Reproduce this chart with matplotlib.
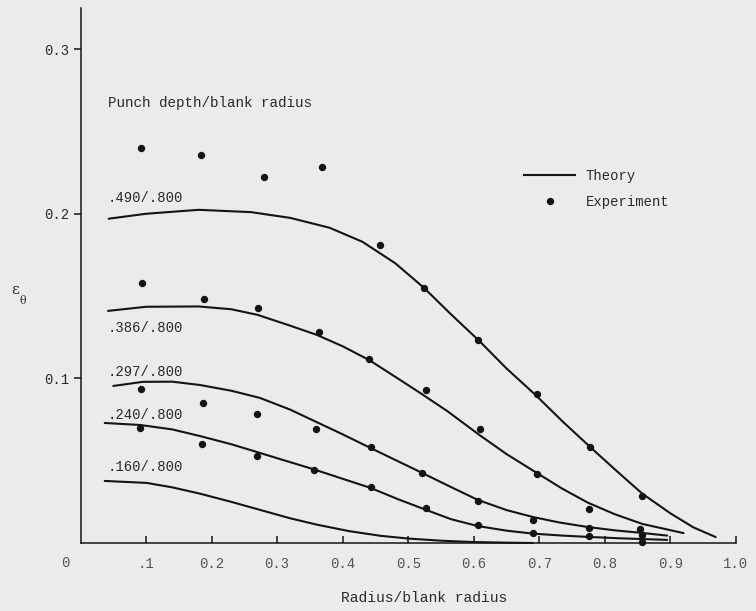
import numpy as np
import matplotlib
matplotlib.use('Agg')
import matplotlib.pyplot as plt
from matplotlib.lines import Line2D

# theory curves: radius/blank radius vs eps_theta
th490_x = [0.043, 0.10, 0.18, 0.26, 0.32, 0.38, 0.43, 0.48, 0.524, 0.565, 0.609, 0.65, 0.694, 0.735, 0.777, 0.82, 0.857, 0.90, 0.935, 0.969]
th490_y = [0.197, 0.200, 0.2024, 0.2010, 0.1975, 0.1915, 0.1830, 0.1700, 0.155, 0.139, 0.1225, 0.106, 0.090, 0.074, 0.0585, 0.043, 0.030, 0.018, 0.0095, 0.0036]
th386_x = [0.042, 0.10, 0.18, 0.23, 0.27, 0.32, 0.36, 0.40, 0.441, 0.48, 0.518, 0.56, 0.609, 0.65, 0.696, 0.735, 0.774, 0.815, 0.857, 0.92]
th386_y = [0.141, 0.1435, 0.1437, 0.1420, 0.1386, 0.1320, 0.1265, 0.1195, 0.111, 0.101, 0.0912, 0.080, 0.0655, 0.054, 0.0426, 0.033, 0.0245, 0.0175, 0.0116, 0.006]
th297_x = [0.05, 0.095, 0.14, 0.182, 0.23, 0.274, 0.32, 0.36, 0.40, 0.441, 0.48, 0.518, 0.56, 0.606, 0.65, 0.69, 0.73, 0.774, 0.815, 0.857, 0.895]
th297_y = [0.0954, 0.0979, 0.0980, 0.0960, 0.0925, 0.0881, 0.0810, 0.0735, 0.0660, 0.0580, 0.0505, 0.0432, 0.035, 0.0262, 0.0200, 0.0158, 0.0125, 0.0097, 0.0077, 0.0061, 0.0045]
th240_x = [0.037, 0.091, 0.14, 0.182, 0.23, 0.269, 0.31, 0.354, 0.40, 0.443, 0.485, 0.528, 0.565, 0.606, 0.65, 0.69, 0.735, 0.774, 0.82, 0.857, 0.895]
th240_y = [0.0729, 0.0717, 0.0690, 0.065, 0.0600, 0.0553, 0.0503, 0.045, 0.039, 0.0334, 0.0265, 0.0200, 0.0145, 0.0103, 0.0075, 0.0057, 0.0045, 0.0037, 0.0029, 0.0024, 0.0019]
th160_x = [0.037, 0.101, 0.14, 0.182, 0.23, 0.274, 0.32, 0.36, 0.41, 0.457, 0.50, 0.55, 0.598, 0.65, 0.69]
th160_y = [0.0377, 0.0365, 0.0338, 0.0300, 0.0250, 0.0201, 0.0150, 0.0112, 0.0072, 0.0044, 0.0027, 0.0014, 0.0006, 0.0002, 0.0]

# experiment points
ex490_x = [0.092, 0.184, 0.280, 0.368, 0.457, 0.524, 0.607, 0.696, 0.777, 0.857]
ex490_y = [0.240, 0.236, 0.2225, 0.2286, 0.181, 0.155, 0.1234, 0.0906, 0.0584, 0.0286]
ex386_x = [0.094, 0.188, 0.271, 0.364, 0.44, 0.527, 0.609, 0.696, 0.775, 0.853]
ex386_y = [0.158, 0.148, 0.143, 0.128, 0.112, 0.093, 0.069, 0.042, 0.0207, 0.0085]
ex297_x = [0.092, 0.187, 0.269, 0.360, 0.443, 0.521, 0.607, 0.690, 0.775, 0.856]
ex297_y = [0.0936, 0.0851, 0.0784, 0.0693, 0.0584, 0.0426, 0.0255, 0.014, 0.0091, 0.0049]
ex240_x = [0.091, 0.185, 0.269, 0.356, 0.443, 0.527, 0.606, 0.690, 0.775, 0.857]
ex240_y = [0.0699, 0.0602, 0.0529, 0.0444, 0.034, 0.0213, 0.0109, 0.0061, 0.0043, 0.0006]

curve_labels = ['.490/.800', '.386/.800', '.297/.800', '.240/.800', '.160/.800']
label_y = [0.2097, 0.1307, 0.104, 0.0778, 0.0462]

xticks = [0.1, 0.2, 0.3, 0.4, 0.5, 0.6, 0.7, 0.8, 0.9, 1.0]
xticklabels = ['.1', '0.2', '0.3', '0.4', '0.5', '0.6', '0.7', '0.8', '0.9', '1.0']
yticks = [0.1, 0.2, 0.3]
yticklabels = ['0.1', '0.2', '0.3']

bg = '#ebebea'
ink = '#141414'
txt = '#2a2a2a'
tickc = '#555555'
plt.rcParams['font.family'] = ['Liberation Mono', 'DejaVu Sans Mono']

fig = plt.figure(figsize=(7.56, 6.11), dpi=100, facecolor=bg)
ax = fig.add_axes([80.5/756, 68/611, (736-80.5)/756, (543-8)/611])
ax.set_facecolor(bg)
ax.set_xlim(0, 1.0)
ax.set_ylim(0, 0.325)

for xs, ys in [(th490_x, th490_y), (th386_x, th386_y), (th297_x, th297_y),
               (th240_x, th240_y), (th160_x, th160_y)]:
    ax.plot(xs, ys, color=ink, lw=1.5, solid_joinstyle='round', solid_capstyle='round', clip_on=False)

for xs, ys in [(ex490_x, ex490_y), (ex386_x, ex386_y), (ex297_x, ex297_y), (ex240_x, ex240_y)]:
    ax.plot(xs, ys, 'o', color=ink, ms=4.3, mec=ink, clip_on=False)

for lab, yy in zip(curve_labels, label_y):
    ax.text(0.042, yy, lab, fontsize=10, color=txt, va='center', ha='left')
ax.text(0.042, 0.267, 'Punch depth/blank radius', fontsize=10.3, color=txt, va='center', ha='left')

for s in ['top', 'right']:
    ax.spines[s].set_visible(False)
for s in ['left', 'bottom']:
    ax.spines[s].set_color(ink)
    ax.spines[s].set_linewidth(1.1)

ax.set_xticks(xticks)
ax.set_xticklabels(xticklabels)
ax.set_yticks(yticks)
ax.set_yticklabels(yticklabels)
ax.tick_params(axis='x', direction='in', length=5, width=1.1, color=ink, pad=10,
               labelsize=10, labelcolor=tickc)
ax.tick_params(axis='y', direction='out', length=5, width=1.1, color=ink, pad=3,
               labelsize=10, labelcolor=txt)

fig.text(65/756, 1 - 563/611, '0', fontsize=10, color=tickc, ha='center', va='center')
fig.text(424/756, 1 - 598/611, 'Radius/blank radius', fontsize=10.5, color=txt, ha='center', va='center')
# y label: epsilon with theta subscript
fig.text(15/756, 1 - 290/611, 'ε', fontsize=11, color=txt, ha='center', va='center', family='DejaVu Serif')
fig.text(23/756, 1 - 301/611, 'θ', fontsize=8, color=txt, ha='center', va='center', family='DejaVu Serif')

handles = [Line2D([], [], color=ink, lw=1.5),
           Line2D([], [], ls='none', marker='o', color=ink, ms=4.3)]
ax.legend(handles, ['Theory', 'Experiment'], loc='upper left',
          bbox_to_anchor=(524/756, 1 - 169/611), bbox_transform=fig.transFigure,
          frameon=False, borderpad=0, borderaxespad=0, handlelength=3.7,
          handletextpad=0.75, labelspacing=0.85, fontsize=10, labelcolor=txt)

fig.savefig('out.png', dpi=100, facecolor=bg)
